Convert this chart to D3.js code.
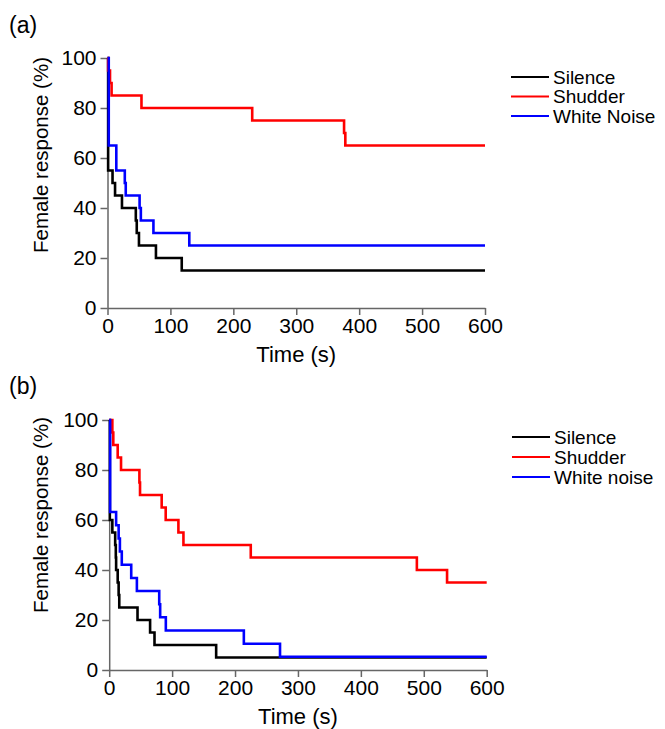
<!DOCTYPE html>
<html>
<head>
<meta charset="utf-8">
<script src="https://cdn.jsdelivr.net/npm/d3@7/dist/d3.min.js"></script>
<style>
  html, body { margin: 0; padding: 0; background: #fff; }
  svg { display: block; }
  text { font-family: "Liberation Sans", Arial, Helvetica, sans-serif; fill: #000; }
</style>
</head>
<body>
<svg id="chart" width="665" height="729"></svg>
<script>
// ---- Data ----
const xTicks = [0, 100, 200, 300, 400, 500, 600];
const yTicks = [0, 20, 40, 60, 80, 100];
const legendA = ["Silence", "Shudder", "White Noise"];
const legendB = ["Silence", "Shudder", "White noise"];

// Panel (a)
const aSilenceTime   = [0, 1, 8, 12, 23, 45, 46.5, 50, 77, 118, 600];
const aSilenceValue  = [100, 55, 50, 45, 40, 35, 30, 25, 20, 15, 15];
const aShudderTime   = [0, 1, 4, 6.5, 54, 230, 376, 378, 600];
const aShudderValue  = [100, 95, 90, 85, 80, 75, 70, 65, 65];
const aWhiteTime     = [0, 2, 14, 27.5, 29, 51, 53, 73, 130, 600];
const aWhiteValue    = [100, 65, 55, 50, 45, 40, 35, 30, 25, 25];

// Panel (b)
const bSilenceTime   = [0, 1, 5, 9.5, 10.5, 11, 13.5, 15, 16, 45, 65, 72, 170, 600];
const bSilenceValue  = [100, 60, 55, 50, 45, 40, 35, 30, 25, 20, 15, 10, 5, 5];
const bShudderTime   = [0, 5, 6.5, 13.5, 18.8, 48, 49, 83.4, 89.8, 110, 118, 225, 489, 537, 600];
const bShudderValue  = [100, 95, 90, 85, 80, 75, 70, 65, 60, 55, 50, 45, 40, 35, 35];
const bWhiteTime     = [0, 1.5, 11, 15, 17, 20, 35, 44, 79.5, 81, 90, 214, 271.5, 600];
const bWhiteValue    = [100, 63.2, 57.9, 52.6, 47.4, 42.1, 36.8, 31.6, 26.3, 21.1, 15.8, 10.5, 5.3, 5.3];

const colors = ["#000000", "#ff0000", "#0000ff"];

// ---- Drawing ----
const svg = d3.select("#chart");
const zip = (t, v) => t.map((d, i) => ({ t: d, v: v[i] }));

function drawPanel(cfg) {
  const x = d3.scaleLinear().domain([0, 600]).range([cfg.x0, cfg.x1]);
  const y = d3.scaleLinear().domain([0, 100]).range([cfg.y0, cfg.y1]);
  const g = svg.append("g");

  const xAxis = g.append("g")
    .attr("transform", `translate(0,${cfg.y0})`)
    .call(d3.axisBottom(x).tickValues(xTicks).tickSize(7).tickSizeOuter(0).tickPadding(3));
  const yAxis = g.append("g")
    .attr("transform", `translate(${cfg.x0},0)`)
    .call(d3.axisLeft(y).tickValues(yTicks).tickSize(7).tickSizeOuter(0).tickPadding(4));
  [xAxis, yAxis].forEach(ax => {
    ax.selectAll("path, line").attr("stroke", "#666").attr("stroke-width", 1.5);
    ax.selectAll("text").style("font-size", "21px").attr("fill", "#000");
  });

  const line = d3.line().x(d => x(d.t)).y(d => y(d.v)).curve(d3.curveStepAfter);
  cfg.series.forEach((s, i) => {
    g.append("path")
      .datum(s)
      .attr("fill", "none")
      .attr("stroke", colors[i])
      .attr("stroke-width", 2.6)
      .attr("d", line);
  });

  g.append("text")
    .attr("x", (cfg.x0 + cfg.x1) / 2)
    .attr("y", cfg.y0 + 54)
    .attr("text-anchor", "middle")
    .style("font-size", "22px")
    .text("Time (s)");

  g.append("text")
    .attr("transform", `translate(48,${cfg.yLabelCenter}) rotate(-90)`)
    .attr("text-anchor", "middle")
    .style("font-size", "20.5px")
    .text("Female response (%)");

  g.append("text")
    .attr("x", 9)
    .attr("y", cfg.titleY)
    .style("font-size", "23px")
    .text(cfg.title);

  const lg = g.append("g");
  cfg.legend.forEach((name, i) => {
    const ly = cfg.legY + i * cfg.legGap;
    lg.append("line")
      .attr("x1", cfg.legX).attr("x2", cfg.legX + 38)
      .attr("y1", ly).attr("y2", ly)
      .attr("stroke", colors[i]).attr("stroke-width", 2);
    lg.append("text")
      .attr("x", cfg.legX + 42)
      .attr("y", ly)
      .attr("dy", "0.35em")
      .style("font-size", "19px")
      .text(name);
  });
}

drawPanel({
  x0: 107.5, x1: 485, y0: 308, y1: 58,
  series: [zip(aSilenceTime, aSilenceValue), zip(aShudderTime, aShudderValue), zip(aWhiteTime, aWhiteValue)],
  legend: legendA, legX: 511, legY: 77, legGap: 19.5,
  title: "(a)", titleY: 33, yLabelCenter: 155
});

drawPanel({
  x0: 109.2, x1: 486.7, y0: 670, y1: 420,
  series: [zip(bSilenceTime, bSilenceValue), zip(bShudderTime, bShudderValue), zip(bWhiteTime, bWhiteValue)],
  legend: legendB, legX: 512, legY: 437, legGap: 20,
  title: "(b)", titleY: 394, yLabelCenter: 515
});
</script>
</body>
</html>
